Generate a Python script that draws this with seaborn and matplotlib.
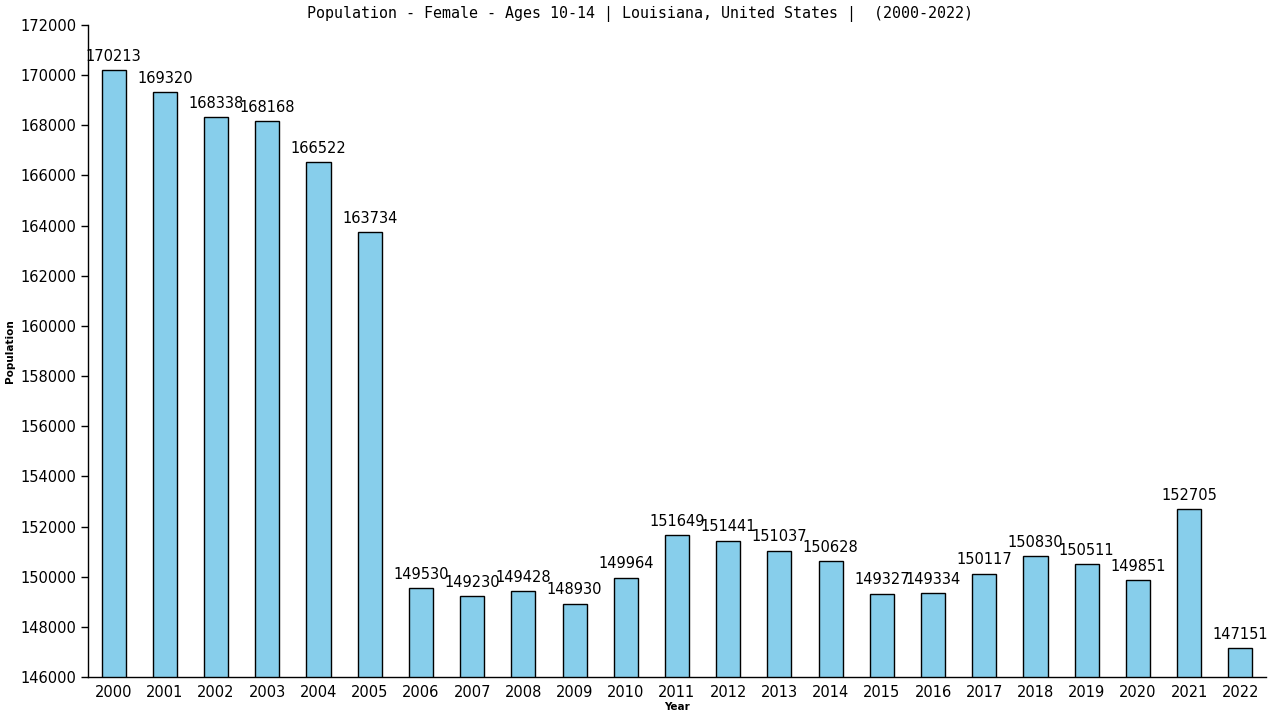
import numpy as np
import pandas as pd
import matplotlib.pyplot as plt
import seaborn as sns

# data
years = [str(y) for y in range(2000, 2023)]
population = [170213, 169320, 168338, 168168, 166522, 163734, 149530, 149230,
              149428, 148930, 149964, 151649, 151441, 151037, 150628, 149327,
              149334, 150117, 150830, 150511, 149851, 152705, 147151]

df = pd.DataFrame({'Year': years, 'Population': population})

sns.set_style('white')
plt.rcParams['font.family'] = ['DejaVu Sans']
plt.rcParams['text.color'] = 'black'
plt.rcParams['axes.labelcolor'] = 'black'
plt.rcParams['xtick.color'] = 'black'
plt.rcParams['ytick.color'] = 'black'

fig = plt.figure(figsize=(12.8, 7.2), dpi=100)
ax = fig.add_axes([0.06875, 0.0597, 0.9203, 0.9056])

sns.barplot(data=df, x='Year', y='Population', color='#87ceeb', saturation=1,
            width=0.47, edgecolor='black', linewidth=1, ax=ax)

ax.set_ylim(146000, 172000)
ax.set_xlim(-0.5, len(years) - 0.5)
ax.set_yticks(np.arange(146000, 172001, 2000))

# value labels
for i, v in enumerate(population):
    ax.text(i, v + 250, str(v), ha='center', va='bottom', fontsize=10.5, color='black')

for s in ['top', 'right']:
    ax.spines[s].set_visible(False)
for s in ['left', 'bottom']:
    ax.spines[s].set_color('black')
    ax.spines[s].set_linewidth(1)

ax.tick_params(axis='y', which='both', left=True, length=5, width=1, labelsize=10.5)
ax.tick_params(axis='x', bottom=False, labelsize=10.5, pad=2)

ax.set_xlabel('Year', fontsize=7.5, fontweight='bold', labelpad=2)
ax.set_ylabel('Population', fontsize=7.5, fontweight='bold', labelpad=4)
fig.text(0.5, 0.981, 'Population - Female - Ages 10-14 | Louisiana, United States |  (2000-2022)',
         fontsize=10.8, family='DejaVu Sans Mono', ha='center', va='center')

fig.savefig('out.png', dpi=100)
